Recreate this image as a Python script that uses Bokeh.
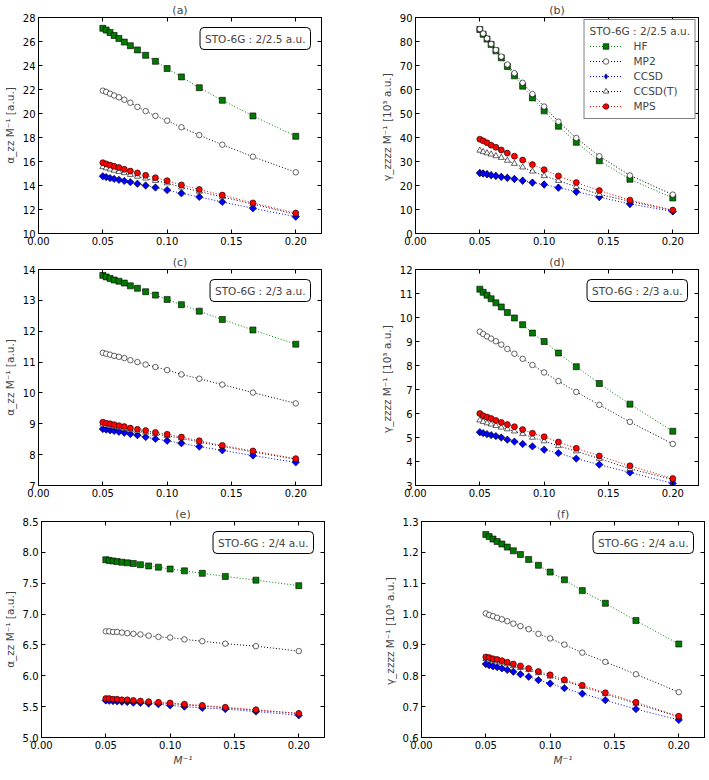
from bokeh.plotting import figure
from bokeh.layouts import column, row
from bokeh.models import Label, Legend, LegendItem, LinearAxis, FixedTicker, Range1d
from bokeh.embed import file_html
from bokeh.resources import INLINE

# x = 1/M for M = 20 ... 5
x_inv_M = [0.0500, 0.0526, 0.0556, 0.0588, 0.0625, 0.0667, 0.0714, 0.0769,
           0.0833, 0.0909, 0.1000, 0.1111, 0.1250, 0.1429, 0.1667, 0.2000]
x_ticks = [0.00, 0.05, 0.10, 0.15, 0.20]
methods = ["HF", "MP2", "CCSD", "CCSD(T)", "MPS"]

# (a) alpha_zz / M, STO-6G 2/2.5 a.u.
a_HF = [27.1, 26.95, 26.75, 26.5, 26.25, 25.95, 25.65, 25.3, 24.85, 24.35, 23.75, 23.05, 22.15, 21.1, 19.8, 18.1]
a_MP2 = [21.9, 21.8, 21.65, 21.5, 21.35, 21.15, 20.9, 20.55, 20.2, 19.8, 19.4, 18.85, 18.2, 17.4, 16.4, 15.1]
a_CCSD = [14.77, 14.7, 14.62, 14.55, 14.47, 14.38, 14.28, 14.15, 14.0, 13.83, 13.62, 13.35, 13.05, 12.63, 12.1, 11.4]
a_CCSDT = [15.55, 15.45, 15.35, 15.25, 15.15, 15.05, 14.9, 14.75, 14.6, 14.4, 14.2, 13.85, 13.5, 13.05, 12.45, 11.6]
a_MPS = [15.9, 15.8, 15.7, 15.6, 15.5, 15.35, 15.2, 15.05, 14.85, 14.65, 14.4, 14.05, 13.67, 13.2, 12.55, 11.7]

# (b) gamma_zzzz / M [10^3 a.u.], STO-6G 2/2.5 a.u.
b_HF = [85.0, 83.0, 81.0, 78.8, 76.1, 73.2, 69.6, 65.7, 61.4, 56.5, 51.1, 44.7, 38.0, 30.3, 22.6, 14.8]
b_MP2 = [85.2, 83.3, 81.3, 79.0, 76.5, 73.7, 70.4, 66.8, 62.8, 58.1, 52.9, 46.6, 39.8, 32.2, 24.2, 16.2]
b_CCSD = [25.2, 25.0, 24.7, 24.3, 24.0, 23.6, 23.2, 22.7, 22.0, 21.2, 20.4, 19.1, 17.4, 15.2, 12.3, 9.2]
b_CCSDT = [34.6, 34.0, 33.5, 33.0, 32.3, 31.6, 30.4, 29.1, 27.6, 25.9, 24.0, 22.0, 19.5, 16.3, 13.4, 9.6]
b_MPS = [39.3, 38.6, 37.8, 36.8, 35.9, 34.8, 33.5, 32.2, 30.6, 28.7, 26.6, 24.0, 21.2, 17.9, 13.9, 9.75]

# (c) alpha_zz / M, STO-6G 2/3 a.u.
c_HF = [13.81, 13.76, 13.71, 13.66, 13.62, 13.56, 13.47, 13.39, 13.28, 13.17, 13.03, 12.86, 12.65, 12.38, 12.04, 11.58]
c_MP2 = [11.30, 11.27, 11.24, 11.20, 11.17, 11.13, 11.06, 11.00, 10.92, 10.84, 10.74, 10.60, 10.46, 10.27, 10.01, 9.66]
c_CCSD = [8.83, 8.81, 8.79, 8.77, 8.74, 8.71, 8.67, 8.63, 8.57, 8.51, 8.45, 8.37, 8.26, 8.14, 7.97, 7.75]
c_CCSDT = [8.98, 8.95, 8.93, 8.90, 8.87, 8.84, 8.80, 8.76, 8.72, 8.67, 8.61, 8.53, 8.41, 8.27, 8.09, 7.85]
c_MPS = [9.05, 9.02, 9.00, 8.97, 8.94, 8.91, 8.86, 8.82, 8.78, 8.72, 8.66, 8.57, 8.45, 8.30, 8.12, 7.87]

# (d) gamma_zzzz / M [10^3 a.u.], STO-6G 2/3 a.u.
d_HF = [11.18, 11.05, 10.93, 10.78, 10.61, 10.44, 10.21, 9.98, 9.70, 9.35, 9.00, 8.52, 7.95, 7.25, 6.39, 5.26]
d_MP2 = [9.41, 9.31, 9.21, 9.12, 9.01, 8.87, 8.69, 8.49, 8.28, 8.02, 7.71, 7.35, 6.90, 6.36, 5.65, 4.73]
d_CCSD = [5.22, 5.18, 5.14, 5.10, 5.06, 5.00, 4.91, 4.83, 4.73, 4.63, 4.49, 4.35, 4.12, 3.87, 3.54, 3.09]
d_CCSDT = [5.72, 5.66, 5.60, 5.55, 5.49, 5.42, 5.35, 5.26, 5.15, 5.00, 4.85, 4.65, 4.43, 4.12, 3.70, 3.25]
d_MPS = [6.00, 5.91, 5.85, 5.79, 5.71, 5.63, 5.54, 5.45, 5.33, 5.18, 5.03, 4.81, 4.55, 4.23, 3.82, 3.29]

# (e) alpha_zz / M, STO-6G 2/4 a.u.
e_HF = [7.88, 7.87, 7.86, 7.85, 7.84, 7.83, 7.82, 7.80, 7.78, 7.76, 7.73, 7.70, 7.66, 7.61, 7.55, 7.46]
e_MP2 = [6.72, 6.72, 6.71, 6.71, 6.70, 6.69, 6.68, 6.67, 6.65, 6.63, 6.62, 6.59, 6.56, 6.52, 6.48, 6.40]
e_CCSD = [5.60, 5.595, 5.59, 5.585, 5.58, 5.575, 5.565, 5.56, 5.55, 5.54, 5.52, 5.50, 5.48, 5.46, 5.42, 5.36]
e_CCSDT = [5.62, 5.62, 5.61, 5.61, 5.60, 5.60, 5.59, 5.58, 5.57, 5.56, 5.55, 5.53, 5.51, 5.48, 5.44, 5.39]
e_MPS = [5.63, 5.63, 5.62, 5.62, 5.61, 5.61, 5.60, 5.59, 5.58, 5.57, 5.56, 5.54, 5.52, 5.49, 5.45, 5.39]

# (f) gamma_zzzz / M [10^3 a.u.], STO-6G 2/4 a.u.
f_HF = [1.258, 1.251, 1.243, 1.235, 1.227, 1.217, 1.205, 1.193, 1.177, 1.158, 1.136, 1.111, 1.076, 1.035, 0.979, 0.903]
f_MP2 = [1.002, 0.997, 0.993, 0.988, 0.983, 0.977, 0.969, 0.961, 0.951, 0.936, 0.921, 0.901, 0.875, 0.845, 0.805, 0.747]
f_CCSD = [0.838, 0.834, 0.831, 0.828, 0.824, 0.819, 0.813, 0.805, 0.797, 0.786, 0.775, 0.760, 0.742, 0.721, 0.692, 0.657]
f_CCSDT = [0.855, 0.853, 0.850, 0.847, 0.843, 0.838, 0.832, 0.826, 0.819, 0.809, 0.798, 0.783, 0.765, 0.741, 0.710, 0.667]
f_MPS = [0.861, 0.859, 0.855, 0.853, 0.849, 0.844, 0.838, 0.832, 0.824, 0.814, 0.803, 0.787, 0.769, 0.745, 0.714, 0.669]

panels = [
    ("(a)", [a_HF, a_MP2, a_CCSD, a_CCSDT, a_MPS], (10, 28), [10, 12, 14, 16, 18, 20, 22, 24, 26, 28], "α_zz M⁻¹ [a.u.]", "STO-6G : 2/2.5 a.u."),
    ("(b)", [b_HF, b_MP2, b_CCSD, b_CCSDT, b_MPS], (0, 90), [0, 10, 20, 30, 40, 50, 60, 70, 80, 90], "γ_zzzz M⁻¹  [10³ a.u.]", "STO-6G : 2/2.5 a.u."),
    ("(c)", [c_HF, c_MP2, c_CCSD, c_CCSDT, c_MPS], (7, 14), [7, 8, 9, 10, 11, 12, 13, 14], "α_zz M⁻¹ [a.u.]", "STO-6G : 2/3 a.u."),
    ("(d)", [d_HF, d_MP2, d_CCSD, d_CCSDT, d_MPS], (3, 12), [3, 4, 5, 6, 7, 8, 9, 10, 11, 12], "γ_zzzz M⁻¹  [10³ a.u.]", "STO-6G : 2/3 a.u."),
    ("(e)", [e_HF, e_MP2, e_CCSD, e_CCSDT, e_MPS], (5.0, 8.5), [5.0, 5.5, 6.0, 6.5, 7.0, 7.5, 8.0, 8.5], "α_zz M⁻¹ [a.u.]", "STO-6G : 2/4 a.u."),
    ("(f)", [f_HF, f_MP2, f_CCSD, f_CCSDT, f_MPS], (0.6, 1.3), [0.6, 0.7, 0.8, 0.9, 1.0, 1.1, 1.2, 1.3], "γ_zzzz M⁻¹  [10³ a.u.]", "STO-6G : 2/4 a.u."),
]

styles = {
    "HF": dict(marker="square", size=6, angle=0.0, fill="#007a00", line="#008000"),
    "MP2": dict(marker="circle", size=5.5, angle=0.0, fill="white", line="black"),
    "CCSD": dict(marker="square", size=5.2, angle=0.785398, fill="#0000ff", line="#0000ff"),
    "CCSD(T)": dict(marker="triangle", size=6, angle=0.0, fill="white", line="black"),
    "MPS": dict(marker="circle", size=6, angle=0.0, fill="#ff0000", line="#ff0000"),
}

FONT = "DejaVu Sans"
FW, FH = 283, 216


def style_axis(ax, labels=True):
    ax.major_tick_in = 4
    ax.major_tick_out = 0
    ax.minor_tick_line_color = None
    ax.axis_line_color = "black"
    ax.major_label_text_font = FONT
    if labels:
        ax.major_label_text_font_size = "10px"
        ax.major_label_text_color = "black"
        ax.major_label_standoff = 3
    else:
        ax.major_label_text_font_size = "1px"
        ax.major_label_text_color = None
        ax.major_label_standoff = 0


def make(idx):
    title, series, yr, yticks, ylabel, boxtext = panels[idx]
    left_col = idx % 2 == 0
    bottom_row = idx >= 4
    p = figure(frame_width=FW, frame_height=FH, x_range=Range1d(0, 0.22), y_range=Range1d(*yr),
               output_backend="svg", toolbar_location=None,
               min_border_left=34, min_border_right=56 if left_col else 2,
               min_border_top=15, min_border_bottom=33 if bottom_row else 19)
    p.title.text = title
    p.title.align = "center"
    p.title.text_font = FONT
    p.title.text_font_size = "11px"
    p.title.text_font_style = "normal"
    p.title.standoff = 2
    p.xgrid.grid_line_color = None
    p.ygrid.grid_line_color = None
    p.outline_line_color = "black"
    p.background_fill_color = "white"
    p.border_fill_color = "white"

    p.xaxis.ticker = FixedTicker(ticks=x_ticks)
    p.xaxis.major_label_overrides = {t: "%.2f" % t for t in x_ticks}
    p.yaxis.ticker = FixedTicker(ticks=yticks)
    if idx in (4, 5):
        p.yaxis.major_label_overrides = {t: "%.1f" % t for t in yticks}
    style_axis(p.xaxis[0])
    style_axis(p.yaxis[0])
    p.yaxis.axis_label = ylabel
    p.yaxis.axis_label_text_font = FONT
    p.yaxis.axis_label_text_font_size = "10.5px"
    p.yaxis.axis_label_text_font_style = "normal"
    p.yaxis.axis_label_standoff = 4
    if bottom_row:
        p.xaxis.axis_label = "M⁻¹"
        p.xaxis.axis_label_text_font = FONT
        p.xaxis.axis_label_text_font_size = "10.5px"
        p.xaxis.axis_label_text_font_style = "italic"
        p.xaxis.axis_label_standoff = 2

    # mirrored inward ticks on top and right (labels not painted)
    ax_r = LinearAxis(ticker=FixedTicker(ticks=yticks))
    style_axis(ax_r, labels=False)
    p.add_layout(ax_r, "right")
    ax_t = LinearAxis(ticker=FixedTicker(ticks=x_ticks))
    style_axis(ax_t, labels=False)
    p.add_layout(ax_t, "above")

    items = []
    for name, ys in zip(methods, series):
        st = styles[name]
        lr = p.line(x_inv_M, ys, line_color=st["line"], line_dash="1 2", line_width=1)
        leg_r = None
        if idx == 1 and name == "CCSD":
            # diamond glyph for the legend; hidden beneath the rotated squares in the plot
            leg_r = p.scatter(x_inv_M, ys, marker="diamond", size=7.2,
                              fill_color=st["fill"], line_color="black", line_width=0.5)
        sr = p.scatter(x_inv_M, ys, marker=st["marker"], size=st["size"], angle=st["angle"],
                       fill_color=st["fill"], line_color="black", line_width=0.6)
        if idx == 1:
            items.append(LegendItem(label=name, renderers=[lr, leg_r if leg_r is not None else sr]))

    if idx == 1:
        leg = Legend(items=items, location="top_right", title=boxtext)
        leg.title_text_font = FONT
        leg.title_text_font_size = "10.5px"
        leg.title_text_font_style = "normal"
        leg.title_standoff = 2
        leg.label_text_font = FONT
        leg.label_text_font_size = "10.5px"
        leg.label_height = 14
        leg.glyph_height = 14
        leg.glyph_width = 32
        leg.spacing = 1
        leg.padding = 5
        leg.margin = 2
        leg.label_standoff = 12
        leg.border_line_color = "black"
        leg.border_line_width = 1
        leg.background_fill_color = "white"
        leg.background_fill_alpha = 1.0
        p.add_layout(leg)
    else:
        xpx = 0.22 / FW
        ypx = (yr[1] - yr[0]) / FH
        lab = Label(x=0.22 - 11 * xpx, y=yr[1] - 10 * ypx, text=boxtext,
                    text_align="right", text_baseline="top",
                    text_font=FONT, text_font_size="10.5px",
                    border_line_color="black", border_line_width=1,
                    background_fill_color="white", padding=5, border_radius=4)
        p.add_layout(lab)
    return p


figs = [make(i) for i in range(6)]
layout = column(row(figs[0], figs[1]), row(figs[2], figs[3]), row(figs[4], figs[5]))
open("out.html", "w").write(file_html(layout, INLINE))
